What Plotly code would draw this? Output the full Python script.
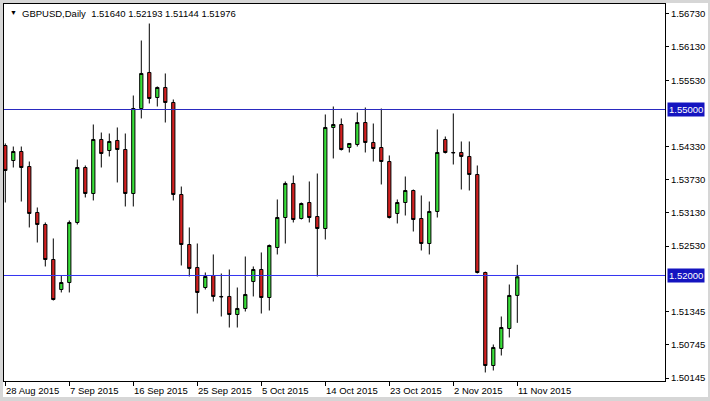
import pandas as pd
import plotly.graph_objects as go

# Daily bars (broker with Sunday sessions): Sun-Fri trading days
dates = [d.strftime("%Y-%m-%d") for d in pd.bdate_range(
    "2015-08-28", "2015-11-11", freq="C", weekmask="Sun Mon Tue Wed Thu Fri")]

opens = [1.54349, 1.54078, 1.54241, 1.53970, 1.53139, 1.52922, 1.52289, 1.51747, 1.51873, 1.52958,
         1.53952, 1.53482, 1.54458, 1.54259, 1.54440, 1.54277, 1.53482, 1.55018, 1.55669, 1.55217,
         1.55398, 1.55127, 1.53464, 1.52560, 1.52145, 1.51783, 1.52000, 1.51621, 1.51621, 1.51295,
         1.51404, 1.51892, 1.52108, 1.51602, 1.52506, 1.53048, 1.53663, 1.53030, 1.53319, 1.53066,
         1.52849, 1.54675, 1.54729, 1.54313, 1.54368, 1.54765, 1.54404, 1.54313, 1.54060, 1.53121,
         1.53319, 1.53536, 1.53030, 1.52578, 1.53157, 1.54458, 1.54223, 1.54223, 1.54151, 1.53825,
         1.52054, 1.50373, 1.50681, 1.51042, 1.51640]
highs = [1.54386, 1.54331, 1.54331, 1.54060, 1.53229, 1.52958, 1.52669, 1.52000, 1.52994, 1.54096,
         1.53988, 1.54729, 1.54584, 1.54566, 1.54675, 1.54566, 1.55253, 1.56247, 1.56554, 1.55416,
         1.55651, 1.55181, 1.53608, 1.52868, 1.52578, 1.52054, 1.52380, 1.52036, 1.52108, 1.51783,
         1.52343, 1.52163, 1.52416, 1.52560, 1.53374, 1.53699, 1.53807, 1.53319, 1.53699, 1.53843,
         1.54910, 1.55054, 1.54838, 1.54390, 1.54946, 1.55036, 1.54747, 1.55018, 1.54169, 1.53374,
         1.53789, 1.53554, 1.53446, 1.53337, 1.54639, 1.54512, 1.54928, 1.54422, 1.54422, 1.53988,
         1.52070, 1.50753, 1.51259, 1.51837, 1.52193]
lows = [1.53319, 1.53952, 1.53337, 1.52868, 1.52596, 1.52163, 1.51548, 1.51693, 1.51693, 1.52922,
        1.53410, 1.53356, 1.53952, 1.54151, 1.53681, 1.53247, 1.53247, 1.54838, 1.55109, 1.55054,
        1.54765, 1.53356, 1.52181, 1.51982, 1.51313, 1.51747, 1.51530, 1.51259, 1.51060, 1.51060,
        1.51349, 1.51621, 1.51313, 1.51367, 1.52380, 1.52578, 1.52958, 1.53012, 1.52958, 1.51982,
        1.52651, 1.54115, 1.54259, 1.54223, 1.54331, 1.54223, 1.54060, 1.53645, 1.53030, 1.52940,
        1.53084, 1.52795, 1.52452, 1.52380, 1.53048, 1.54205, 1.54006, 1.53554, 1.53536, 1.52036,
        1.50247, 1.50283, 1.50554, 1.50880, 1.51144]
closes = [1.53898, 1.54241, 1.53952, 1.53121, 1.52922, 1.52289, 1.51566, 1.51873, 1.52958, 1.53952,
          1.53482, 1.54458, 1.54205, 1.54422, 1.54277, 1.53482, 1.55018, 1.55651, 1.55199, 1.55398,
          1.55127, 1.53464, 1.52560, 1.52127, 1.51693, 1.51982, 1.51621, 1.51615, 1.51295, 1.51404,
          1.51657, 1.52108, 1.51602, 1.52542, 1.53048, 1.53663, 1.53012, 1.53301, 1.53048, 1.52849,
          1.54675, 1.54729, 1.54277, 1.54386, 1.54765, 1.54404, 1.54295, 1.54060, 1.53048, 1.53319,
          1.53536, 1.53012, 1.52578, 1.53157, 1.54223, 1.54223, 1.54218, 1.54151, 1.53825, 1.52054,
          1.50373, 1.50699, 1.51060, 1.51639, 1.51976]

x_tick_labels = ["28 Aug 2015", "7 Sep 2015", "16 Sep 2015", "25 Sep 2015", "5 Oct 2015",
                 "14 Oct 2015", "23 Oct 2015", "2 Nov 2015", "11 Nov 2015"]
x_tick_dates = ["2015-08-28", "2015-09-07", "2015-09-16", "2015-09-25", "2015-10-05",
                "2015-10-14", "2015-10-23", "2015-11-02", "2015-11-11"]
y_tick_vals = [1.56730, 1.56130, 1.55530, 1.54330, 1.53730, 1.53130, 1.52530, 1.51345, 1.50745, 1.50145]
levels = [1.55000, 1.52000]
title_text = "GBPUSD,Daily  1.51640 1.52193 1.51144 1.51976"

FONT = "Liberation Sans, Arial, sans-serif"
W, H = 710, 401
ML, MR, MT, MB = 4, 45, 4, 20
PW, PH = W - ML - MR, H - MT - MB
PX_PER_UNIT = 5533.0


def px_x(p):
    return (p - ML) / PW


def px_y(p):
    return (H - MB - p) / PH


fig = go.Figure()
fig.add_trace(go.Candlestick(
    x=dates, open=opens, high=highs, low=lows, close=closes,
    increasing=dict(fillcolor="#38e038", line=dict(color="#000000", width=1)),
    decreasing=dict(fillcolor="#d42020", line=dict(color="#000000", width=1)),
    whiskerwidth=0, hoverinfo="skip", showlegend=False,
))

shapes = [
    dict(type="rect", xref="paper", yref="paper", x0=px_x(3), x1=px_x(708), y0=px_y(397), y1=px_y(3),
         fillcolor="white", line=dict(width=0), layer="below"),
    dict(type="line", xref="paper", yref="y", x0=0, x1=1, y0=levels[0], y1=levels[0],
         line=dict(color="#2a2ac0", width=1)),
    dict(type="line", xref="paper", yref="y", x0=0, x1=1, y0=levels[1], y1=levels[1],
         line=dict(color="#3434f0", width=1)),
]

annotations = []
for d, t in zip(x_tick_dates, x_tick_labels):
    annotations.append(dict(x=d, xref="x", y=px_y(390), yref="paper", text=t, showarrow=False,
                            xanchor="left", yanchor="middle", xshift=-1,
                            font=dict(family=FONT, size=9.5, color="#000000")))
for lv in levels:
    annotations.append(dict(x=px_x(667), xref="paper", y=lv, yref="y", text=f"{lv:.5f}",
                            showarrow=False, xanchor="left", yanchor="middle",
                            bgcolor="#1414c0", borderpad=1,
                            font=dict(family=FONT, size=9.5, color="#ffffff")))
annotations.append(dict(x=px_x(8), xref="paper", y=px_y(13), yref="paper", text="▼", showarrow=False,
                        xanchor="left", yanchor="middle", font=dict(family=FONT, size=7, color="#000000")))
annotations.append(dict(x=px_x(20), xref="paper", y=px_y(13.5), yref="paper", text=title_text,
                        showarrow=False, xanchor="left", yanchor="middle",
                        font=dict(family=FONT, size=9.5, color="#000000")))

bar_px = 8.0
first_px = 5.3
y_top = 1.55 + (109.5 - MT) / PX_PER_UNIT
y_bottom = 1.55 - (H - MB - 109.5) / PX_PER_UNIT
fig.update_layout(
    width=W, height=H,
    margin=dict(l=ML, r=MR, t=MT, b=MB, pad=0),
    paper_bgcolor="#d6d6d6", plot_bgcolor="#ffffff",
    boxgap=0.42,
    shapes=shapes, annotations=annotations,
    xaxis=dict(type="category", range=[(ML - first_px) / bar_px, (ML + PW - first_px) / bar_px],
               rangeslider=dict(visible=False), showgrid=False, zeroline=False,
               showline=True, linecolor="#000000", linewidth=1, mirror=True,
               tickmode="array", tickvals=x_tick_dates, ticktext=[""] * len(x_tick_dates),
               ticks="outside", ticklen=4, tickcolor="#000000"),
    yaxis=dict(side="right", range=[y_bottom, y_top],
               showgrid=False, zeroline=False,
               showline=True, linecolor="#000000", linewidth=1, mirror=True,
               tickmode="array", tickvals=y_tick_vals, ticktext=[f"{v:.5f}" for v in y_tick_vals],
               ticks="outside", ticklen=3, tickcolor="#000000",
               tickfont=dict(family=FONT, size=9.5, color="#000000")),
    hovermode=False,
)

fig.write_html("out.html", config={"displayModeBar": False},
               post_script="document.body.style.margin='0';document.body.style.overflow='hidden';")
